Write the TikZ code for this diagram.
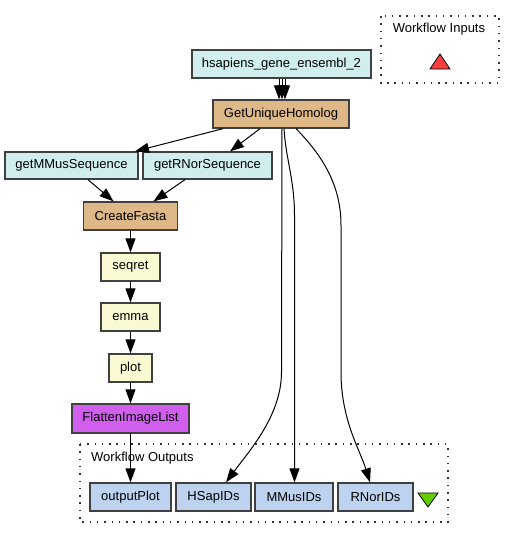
\documentclass[tikz,border=0pt]{standalone}
\usepackage{fontspec}
\setmainfont{Liberation Sans}
\usetikzlibrary{arrows.meta}
\definecolor{cyanbox}{HTML}{D1EEEE}
\definecolor{tanbox}{HTML}{DEB887}
\definecolor{yelbox}{HTML}{FAFAD2}
\definecolor{purpbox}{HTML}{D15FEE}
\definecolor{outbox}{HTML}{BCD2EE}
\definecolor{inred}{HTML}{FF4040}
\definecolor{outgreen}{HTML}{66CD00}
\begin{document}
\begin{tikzpicture}[x=1pt,y=-1pt,
  box/.style={draw=black!75,line width=1.3pt,inner sep=0pt,font=\fontsize{13}{15}\selectfont},
  lbl/.style={inner sep=0pt,font=\fontsize{13}{15}\selectfont},
  edge/.style={line width=1pt,-{Triangle[length=14pt,width=10pt]}},
  grp/.style={draw=black!80,line width=1.3pt,dash pattern=on 1.5pt off 5.8pt}]
\useasboundingbox (0,0) rectangle (515,539);
% groups
\draw[grp] (381,16) rectangle (499,83);
\node[lbl] (wi) at (439,29.5) {Workflow Inputs};
\draw[draw=black,line width=0.8pt,fill=inred] (430,69) -- (440,54) -- (450,69) -- cycle;
\draw[grp] (80,444) rectangle (448,522);
\node[lbl,anchor=west] (wo) at (91,458.5) {Workflow Outputs};
\draw[draw=black,line width=0.8pt,fill=outgreen] (418,493) -- (438,493) -- (428,507) -- cycle;
% nodes
\node[box,fill=cyanbox,minimum width=179pt,minimum height=28pt] (hs) at (281.5,64) {hsapiens\_gene\_ensembl\_2};
\node[box,fill=tanbox,minimum width=136pt,minimum height=28pt] (guh) at (281,114) {GetUniqueHomolog};
\node[box,fill=cyanbox,minimum width=133pt,minimum height=27pt] (gmm) at (71.5,165.5) {getMMusSequence};
\node[box,fill=cyanbox,minimum width=129pt,minimum height=27pt] (grn) at (207.5,165.5) {getRNorSequence};
\node[box,fill=tanbox,minimum width=94pt,minimum height=28pt] (cf) at (130.5,216) {CreateFasta};
\node[box,fill=yelbox,minimum width=59pt,minimum height=28pt] (seq) at (130.5,267) {seqret};
\node[box,fill=yelbox,minimum width=59pt,minimum height=28pt] (emma) at (130.5,317) {emma};
\node[box,fill=yelbox,minimum width=43pt,minimum height=28pt] (plot) at (130.5,368) {plot};
\node[box,fill=purpbox,minimum width=117pt,minimum height=29pt] (flat) at (130.5,418.5) {FlattenImageList};
\node[box,fill=outbox,minimum width=81pt,minimum height=28pt] (op) at (130.5,497) {outputPlot};
\node[box,fill=outbox,minimum width=75pt,minimum height=28pt] (hsap) at (213.5,497) {HSapIDs};
\node[box,fill=outbox,minimum width=78pt,minimum height=28pt] (mmus) at (294,497) {MMusIDs};
\node[box,fill=outbox,minimum width=75pt,minimum height=28pt] (rnor) at (375.5,497) {RNorIDs};
% edges
\draw[edge] ([xshift=-2.5pt]hs.south) -- ([xshift=-2pt]guh.north);
\draw[edge] ([xshift=0.5pt]hs.south) -- ([xshift=1pt]guh.north);
\draw[edge] ([xshift=3.5pt]hs.south) -- ([xshift=4pt]guh.north);
\draw[edge] ([xshift=-58pt]guh.south) -- ([xshift=63.5pt]gmm.north);
\draw[edge] ([xshift=-21pt]guh.south) -- ([xshift=22.5pt]grn.north);
\draw[edge] ([xshift=16.5pt]gmm.south) -- ([xshift=-17pt]cf.north);
\draw[edge] ([xshift=-22.5pt]grn.south) -- ([xshift=23pt]cf.north);
\draw[edge] (cf) -- (seq);
\draw[edge] (seq) -- (emma);
\draw[edge] (emma) -- (plot);
\draw[edge] (plot) -- (flat);
\draw[edge] (flat) -- (op);
\draw[edge] ([xshift=1pt]guh.south) -- (281.5,372) .. controls (281.5,415) and (250,450) .. ([xshift=12.5pt]hsap.north);
\draw[edge] ([xshift=3pt]guh.south) .. controls (286,160) and (294.5,180) .. (294.5,215) -- ([xshift=0.5pt]mmus.north);
\draw[edge] ([xshift=15pt]guh.south) .. controls (322,155) and (341,185) .. (341,225) -- (341,372) .. controls (341,420) and (360,450) .. ([xshift=-5.5pt]rnor.north);
\end{tikzpicture}
\end{document}
